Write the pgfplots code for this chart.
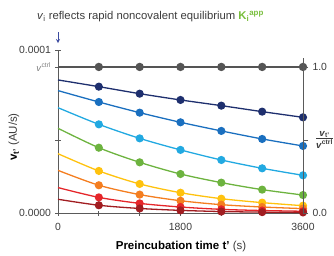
\documentclass[border=0pt]{standalone}
\usepackage{pgfplots}
\pgfplotsset{compat=1.18}
\usepackage{fontspec}
\setmainfont{Liberation Sans}
\definecolor{cnavy}{RGB}{30,47,110}
\definecolor{cblue}{RGB}{26,111,191}
\definecolor{clblue}{RGB}{34,169,225}
\definecolor{cgreen}{RGB}{109,179,63}
\definecolor{cyellow}{RGB}{255,194,14}
\definecolor{corange}{RGB}{244,126,32}
\definecolor{cred}{RGB}{229,38,42}
\definecolor{cdred}{RGB}{161,29,33}
\definecolor{cgray}{RGB}{85,85,85}
\definecolor{axgray}{RGB}{90,90,90}
\definecolor{txt}{RGB}{60,60,60}
\definecolor{kgreen}{RGB}{120,190,60}
\definecolor{arrowblue}{RGB}{60,75,160}
\begin{document}
\begin{tikzpicture}
\path[use as bounding box] (-58pt,-42pt) rectangle (276pt,213pt);
\pgfplotsset{
  every axis/.append style={
    scale only axis, width=245pt,
    xmin=0, xmax=3600, ymin=0,
    tick style={axgray, line width=0.8pt},
    tick align=outside, major tick length=5pt,
    tick label style={font=\fontsize{10.4}{12}\selectfont, text=txt},
    /pgf/number format/assume math mode=true,
  },
  myline/.style={line width=1.3pt, smooth, mark=*, mark size=3.4pt, mark indices={2,3,4,5,6,7}},
}
\begin{axis}[
  height=163pt, ymax=1.116,
  axis x line=bottom, axis y line=left,
  axis line style={axgray, line width=0.9pt, -},
  xtick={0,600,1200,1800,2400,3000,3600},
  xticklabels={0,,,1800,,,3600},
  xticklabel style={yshift=-4pt},
  ytick={0,0.5,1,1.116},
  yticklabels={0.0000,,{\textcolor{gray}{\fontsize{9.5}{10}\selectfont\textit{v}\textsuperscript{ctrl}}},0.0001},
  yticklabel style={xshift=-1pt},
  clip=false,
]
\addplot[myline, color=cgray, line width=1.5pt] coordinates {(0,1) (600,1) (1200,1) (1800,1) (2400,1) (3000,1) (3600,1)};
\addplot[myline, color=cnavy] coordinates {(0,0.911) (600,0.865) (1200,0.817) (1800,0.774) (2400,0.735) (3000,0.694) (3600,0.655)};
\addplot[myline, color=cblue] coordinates {(0,0.838) (600,0.760) (1200,0.687) (1800,0.621) (2400,0.562) (3000,0.507) (3600,0.459)};
\addplot[myline, color=clblue] coordinates {(0,0.721) (600,0.607) (1200,0.511) (1800,0.432) (2400,0.363) (3000,0.306) (3600,0.258)};
\addplot[myline, color=cgreen] coordinates {(0,0.580) (600,0.447) (1200,0.347) (1800,0.267) (2400,0.208) (3000,0.160) (3600,0.123)};
\addplot[myline, color=cyellow] coordinates {(0,0.406) (600,0.288) (1200,0.199) (1800,0.139) (2400,0.098) (3000,0.071) (3600,0.050)};
\addplot[myline, color=corange] coordinates {(0,0.292) (600,0.190) (1200,0.126) (1800,0.084) (2400,0.057) (3000,0.041) (3600,0.030)};
\addplot[myline, color=cred] coordinates {(0,0.174) (600,0.107) (1200,0.066) (1800,0.041) (2400,0.025) (3000,0.017) (3600,0.012)};
\addplot[myline, color=cdred] coordinates {(0,0.094) (600,0.053) (1200,0.031) (1800,0.018) (2400,0.010) (3000,0.006) (3600,0.004)};
\end{axis}
\begin{axis}[
  height=155pt, ymax=1.062,
  axis x line=none, axis y line*=right,
  axis line style={axgray, line width=0.9pt, -},
  ytick={0,0.5,1},
  yticklabels={0.0,,1.0},
  yticklabel style={xshift=1pt},
]
\end{axis}
% texts
\node[anchor=west, inner sep=0pt, text=txt, font=\fontsize{11.3}{13}\selectfont] at (-21pt,196pt)
  {\textit{v}\textsubscript{i} reflects rapid noncovalent equilibrium \textcolor{kgreen}{\textbf{K}\textsubscript{\textbf{i}}\textsuperscript{\textbf{app}}}};
\draw[arrowblue, line width=0.8pt, ->, >=stealth] (0pt,181pt) -- (0pt,170pt);
\node[rotate=90, text=black, font=\fontsize{11.5}{13}\selectfont] at (-44pt,76pt)
  {\textbf{v}\textsubscript{\textbf{t'}} \textcolor{txt}{(AU/s)}};
\node[text=black, font=\fontsize{11.5}{13}\selectfont] at (123pt,-34pt)
  {\textbf{Preincubation time t'} \textcolor{txt}{(s)}};
\node[anchor=west, inner sep=0pt, text=txt, font=\fontsize{9.6}{11}\selectfont] at (258pt,73pt)
  {\begin{tabular}{@{}c@{}}\textbf{\textit{v}}\textsubscript{\textbf{t'}}\\[-2pt]\hline\rule{0pt}{10pt}\textbf{\textit{v}}\textsuperscript{\textbf{ctrl}}\end{tabular}};
\end{tikzpicture}
\end{document}
